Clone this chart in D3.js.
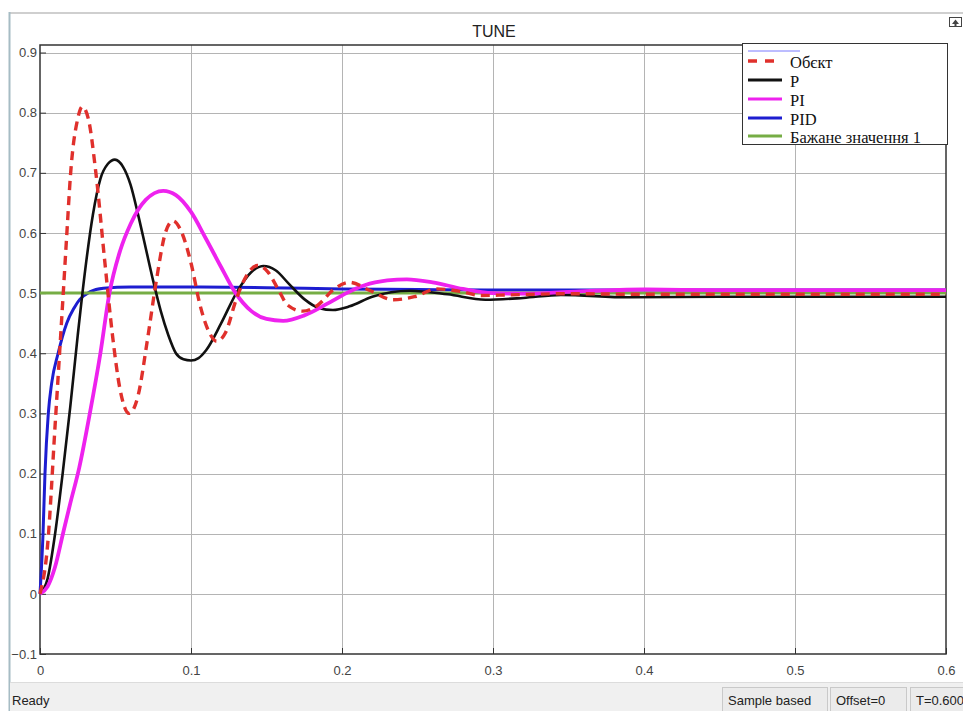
<!DOCTYPE html>
<html>
<head>
<meta charset="utf-8">
<script src="https://cdn.jsdelivr.net/npm/d3@7"></script>
<style>
  body { margin: 0; background: #fff; }
  svg { display: block; }
</style>
</head>
<body>
<svg id="graph"></svg>
<script>
// values: [time, output]
const objectData = [[0,0],[0.005,0.08],[0.01,0.28],[0.0154,0.5],[0.0178,0.6],[0.0203,0.7],[0.025,0.79],[0.028,0.81],[0.032,0.79],[0.037,0.70],[0.043,0.55],[0.048,0.43],[0.053,0.34],[0.059,0.30],[0.065,0.33],[0.071,0.42],[0.077,0.52],[0.083,0.60],[0.088,0.62],[0.094,0.60],[0.100,0.55],[0.106,0.48],[0.112,0.435],[0.117,0.42],[0.123,0.435],[0.130,0.49],[0.137,0.53],[0.144,0.546],[0.151,0.535],[0.158,0.505],[0.164,0.48],[0.174,0.47],[0.184,0.48],[0.194,0.505],[0.205,0.518],[0.218,0.505],[0.234,0.489],[0.248,0.494],[0.263,0.507],[0.278,0.503],[0.292,0.496],[0.31,0.497],[0.35,0.499],[0.4,0.498],[0.6,0.498]];
const pData = [[0,0],[0.005,0.025],[0.01,0.1],[0.015,0.2],[0.02,0.31],[0.025,0.43],[0.03,0.54],[0.035,0.63],[0.04,0.69],[0.045,0.715],[0.0496,0.722],[0.055,0.71],[0.06,0.68],[0.065,0.63],[0.07,0.575],[0.075,0.52],[0.08,0.47],[0.085,0.43],[0.09,0.40],[0.095,0.39],[0.1,0.388],[0.105,0.392],[0.11,0.405],[0.12,0.45],[0.13,0.5],[0.14,0.535],[0.148,0.545],[0.156,0.538],[0.165,0.515],[0.175,0.49],[0.185,0.475],[0.194,0.472],[0.205,0.478],[0.22,0.494],[0.245,0.504],[0.27,0.498],[0.295,0.489],[0.32,0.492],[0.345,0.497],[0.39,0.493],[0.45,0.494],[0.6,0.494]];
const piData = [[0,0],[0.005,0.012],[0.01,0.045],[0.0152,0.1],[0.02,0.15],[0.026,0.21],[0.033,0.3],[0.04,0.4],[0.046,0.5],[0.053,0.57],[0.06,0.615],[0.07,0.655],[0.0816,0.67],[0.09,0.663],[0.1,0.635],[0.11,0.59],[0.12,0.543],[0.129,0.502],[0.14,0.47],[0.15,0.457],[0.161,0.454],[0.175,0.463],[0.19,0.482],[0.203,0.5],[0.215,0.513],[0.23,0.521],[0.243,0.523],[0.26,0.518],[0.28,0.507],[0.3,0.5],[0.323,0.499],[0.35,0.502],[0.4,0.506],[0.45,0.505],[0.6,0.505]];
const pidData = [[0,0],[0.002,0.1],[0.0033,0.2],[0.0055,0.3],[0.0077,0.35],[0.012,0.4],[0.0177,0.45],[0.0225,0.475],[0.0265,0.49],[0.033,0.502],[0.042,0.508],[0.06,0.51],[0.1,0.51],[0.15,0.509],[0.2,0.507],[0.25,0.506],[0.3,0.505],[0.6,0.505]];
const setpointData = [[0,0.5],[0.6,0.5]];

const xTicks = [0, 0.1, 0.2, 0.3, 0.4, 0.5, 0.6];
const yTicks = [-0.1, 0, 0.1, 0.2, 0.3, 0.4, 0.5, 0.6, 0.7, 0.8, 0.9];
const legendLabels = ['', 'Обєкт', 'P', 'PI', 'PID', 'Бажане значення 1'];

const W = 963, H = 711;
const margin = { top: 45, right: 17, bottom: 57, left: 40 };
const width = W - margin.left - margin.right;
const height = H - margin.top - margin.bottom;

const svg = d3.select('#graph')
    .attr('width', W)
    .attr('height', H)
    .style('font-family', '"Liberation Sans", Arial, sans-serif');

// window frame
svg.append('rect').attr('x', 0).attr('y', 0).attr('width', W).attr('height', 12).attr('fill', '#fff');
svg.append('line').attr('x1', 9).attr('x2', W).attr('y1', 13).attr('y2', 13)
    .attr('stroke', '#cfcfcf').attr('stroke-width', 2);
svg.append('line').attr('x1', 9.5).attr('x2', 9.5).attr('y1', 12).attr('y2', H)
    .attr('stroke', '#a6bcc4').attr('stroke-width', 2);

// status bar
svg.append('rect').attr('x', 10).attr('y', 682).attr('width', W - 10).attr('height', H - 682)
    .attr('fill', '#f0f0f0');
svg.append('line').attr('x1', 10).attr('x2', W).attr('y1', 682.5).attr('y2', 682.5)
    .attr('stroke', '#dcdcdc');
svg.append('text').attr('x', 12).attr('y', 705).attr('font-size', 13).attr('fill', '#222').text('Ready');
const boxes = [
  { x: 722, w: 105, t: 'Sample based' },
  { x: 830, w: 76, t: 'Offset=0' },
  { x: 910, w: 60, t: 'T=0.600' },
];
boxes.forEach(b => {
  svg.append('rect').attr('x', b.x + 0.5).attr('y', 687.5).attr('width', b.w).attr('height', 24)
      .attr('fill', '#ebebeb').attr('stroke', '#c9c9c9');
  svg.append('text').attr('x', b.x + 6).attr('y', 705).attr('font-size', 13).attr('fill', '#222').text(b.t);
});

// little undock icon
svg.append('rect').attr('x', 949.5).attr('y', 17.5).attr('width', 12).attr('height', 9)
    .attr('fill', '#fff').attr('stroke', '#444');
svg.append('path').attr('d', 'M952,24 L955.5,19.5 L959,24 Z M954.5,24 h2 v2 h-2 Z').attr('fill', '#444');

// title
svg.append('text').attr('x', 494).attr('y', 37).attr('text-anchor', 'middle')
    .attr('font-size', 16).attr('fill', '#222').text('TUNE');

const g = svg.append('g').attr('transform', `translate(${margin.left},${margin.top})`);

const x = d3.scaleLinear().domain([0, 0.6]).range([0, width]);
const y = d3.scaleLinear().domain([-0.1, 0.9125]).range([height, 0]);

g.append('rect').attr('width', width).attr('height', height).attr('fill', '#fff');

// grid
g.append('g')
    .selectAll('line').data(xTicks.slice(1, -1)).enter().append('line')
    .attr('x1', d => x(d) + 0.5).attr('x2', d => x(d) + 0.5)
    .attr('y1', 0).attr('y2', height)
    .attr('stroke', '#b4b4b4');
g.append('g')
    .selectAll('line').data(yTicks.slice(1)).enter().append('line')
    .attr('x1', 0).attr('x2', width)
    .attr('y1', d => Math.round(y(d)) + 0.5).attr('y2', d => Math.round(y(d)) + 0.5)
    .attr('stroke', '#b4b4b4');

// axes
const xAxis = g.append('g')
    .attr('transform', `translate(0,${height})`)
    .call(d3.axisBottom(x).tickValues(xTicks).tickSize(-6).tickPadding(12).tickFormat(d3.format('')));
const yAxis = g.append('g')
    .call(d3.axisLeft(y).tickValues(yTicks).tickSize(-6).tickPadding(3).tickFormat(d3.format('')));
[xAxis, yAxis].forEach(a => {
  a.select('.domain').remove();
  a.selectAll('line').attr('stroke', '#333');
  a.selectAll('text').attr('font-size', 13).attr('fill', '#444')
      .style('font-family', '"Liberation Sans", Arial, sans-serif');
});

g.append('rect').attr('width', width).attr('height', height)
    .attr('fill', 'none').attr('stroke', '#333').attr('stroke-width', 1.5);

// lines
const line = d3.line()
    .x(d => x(d[0]))
    .y(d => y(d[1]))
    .curve(d3.curveMonotoneX);

const series = [
  { data: pidData, color: '#1d1dd0', w: 3, dash: null },
  { data: setpointData, color: '#76ad45', w: 3, dash: null },
  { data: pData, color: '#111', w: 2.6, dash: null },
  { data: piData, color: '#ee22ee', w: 3.8, dash: null },
  { data: objectData, color: '#e0302c', w: 3.4, dash: '9,6' },
];

const plot = g.append('g');
series.forEach(s => {
  plot.append('path')
      .datum(s.data)
      .attr('fill', 'none')
      .attr('stroke', s.color)
      .attr('stroke-width', s.w)
      .attr('stroke-dasharray', s.dash)
      .attr('d', line);
});

// legend
const leg = svg.append('g').attr('transform', 'translate(742,43)');
leg.append('rect').attr('x', 0.5).attr('y', 0.5).attr('width', 205).attr('height', 101)
    .attr('fill', '#fff').attr('stroke', '#333');
const legStyle = [
  { color: '#7a7aff', w: 1, dash: null, x2: 58 },
  { color: '#e0302c', w: 3.4, dash: '9,8', x2: 40 },
  { color: '#111', w: 3, dash: null, x2: 40 },
  { color: '#ee22ee', w: 3, dash: null, x2: 40 },
  { color: '#1d1dd0', w: 3, dash: null, x2: 40 },
  { color: '#76ad45', w: 3, dash: null, x2: 40 },
];
const rowY = [8, 18, 37, 56, 75, 93];
legendLabels.forEach((lab, i) => {
  leg.append('line')
      .attr('x1', 6).attr('x2', legStyle[i].x2)
      .attr('y1', rowY[i]).attr('y2', rowY[i])
      .attr('stroke', legStyle[i].color)
      .attr('stroke-width', legStyle[i].w)
      .attr('stroke-dasharray', legStyle[i].dash);
  if (lab) {
    leg.append('text')
        .attr('x', 48).attr('y', rowY[i] + 7)
        .attr('font-size', 16.5)
        .attr('fill', '#111')
        .style('font-family', '"Liberation Serif", "Times New Roman", serif')
        .text(lab);
  }
});
</script>
</body>
</html>
